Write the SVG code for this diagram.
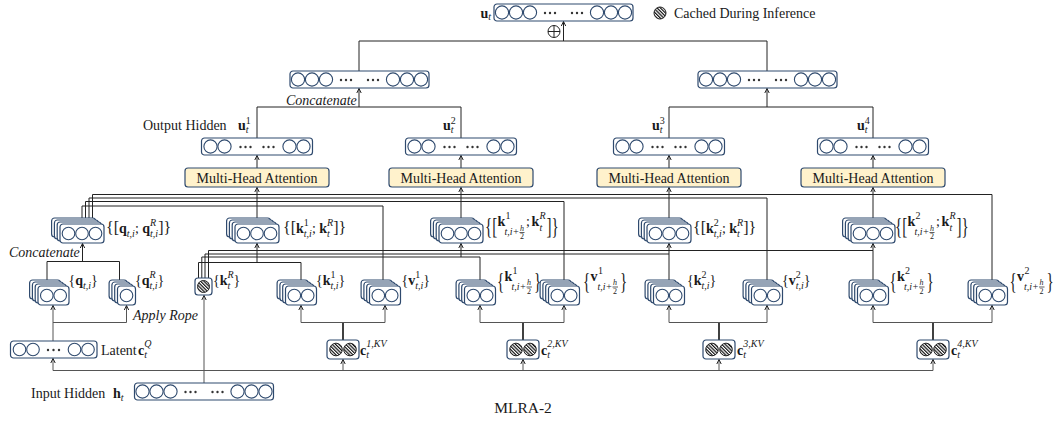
<svg xmlns="http://www.w3.org/2000/svg" width="1053" height="421" viewBox="0 0 1053 421">
<style>
  .t{font-family:"Liberation Serif","Times New Roman",serif;font-size:14px;fill:#1a1a1a}
  .b{font-weight:bold}
  .s{font-size:10px;font-style:italic}
  .n{font-size:10px;font-style:normal}
  .f{font-size:8px;font-style:italic}
  .fn{font-size:8px;font-style:normal}
  .i{font-style:italic}
  .br{font-size:16px}
  .big{font-size:15px}
  .box{fill:#fff;stroke:#2f4a6e;stroke-width:1.2}
  .cir{fill:#fff;stroke:#2f4a6e;stroke-width:1.1}
  .hc{fill:url(#hatch);stroke:#222;stroke-width:1}
  .dot{fill:#333}
  .mha{fill:#fff2cc;stroke:#2f4a6e;stroke-width:1.2}
  .ln{fill:none;stroke:#222;stroke-width:1}
  .lg{fill:none;stroke:#555;stroke-width:1}
  .thk{fill:none;stroke:#111;stroke-width:1.6}
  .arr{marker-end:url(#ah)}
  .bar{stroke:#1a1a1a;stroke-width:0.7}
</style>
<defs>
  <marker id="ah" markerWidth="6" markerHeight="6" refX="5" refY="3" orient="auto" markerUnits="userSpaceOnUse">
    <path d="M0.5,0.8 L5,3 L0.5,5.2" fill="none" stroke="#222" stroke-width="1"/>
  </marker>
  <pattern id="hatch" width="2.4" height="2.4" patternUnits="userSpaceOnUse" patternTransform="rotate(-45)">
    <rect width="2.4" height="2.4" fill="#fff"/>
    <rect width="1.2" height="2.4" fill="#111"/>
  </pattern>
  <!-- wide hidden-state vector: 3 units, ellipsis, ellipsis, 3 units -->
  <g id="v6">
    <rect x="0" y="0" width="139" height="17" rx="3" class="box"/>
    <circle cx="8" cy="8.5" r="6.6" class="cir"/><circle cx="22" cy="8.5" r="6.6" class="cir"/><circle cx="36" cy="8.5" r="6.6" class="cir"/>
    <circle cx="51" cy="9" r="1.2" class="dot"/><circle cx="56" cy="9" r="1.2" class="dot"/><circle cx="61" cy="9" r="1.2" class="dot"/>
    <circle cx="78" cy="9" r="1.2" class="dot"/><circle cx="83" cy="9" r="1.2" class="dot"/><circle cx="88" cy="9" r="1.2" class="dot"/>
    <circle cx="103" cy="8.5" r="6.6" class="cir"/><circle cx="117" cy="8.5" r="6.6" class="cir"/><circle cx="131" cy="8.5" r="6.6" class="cir"/>
  </g>
  <!-- per-group output vector -->
  <g id="v4">
    <rect x="0" y="0" width="111" height="17" rx="3" class="box"/>
    <circle cx="9" cy="8.5" r="6.6" class="cir"/><circle cx="23" cy="8.5" r="6.6" class="cir"/>
    <circle cx="39" cy="9" r="1.2" class="dot"/><circle cx="44" cy="9" r="1.2" class="dot"/><circle cx="49" cy="9" r="1.2" class="dot"/>
    <circle cx="62" cy="9" r="1.2" class="dot"/><circle cx="67" cy="9" r="1.2" class="dot"/><circle cx="72" cy="9" r="1.2" class="dot"/>
    <circle cx="88" cy="8.5" r="6.6" class="cir"/><circle cx="102" cy="8.5" r="6.6" class="cir"/>
  </g>
  <!-- query latent vector -->
  <g id="vq">
    <rect x="0" y="0" width="86.5" height="17" rx="3" class="box"/>
    <circle cx="9" cy="8.5" r="6.3" class="cir"/><circle cx="22.5" cy="8.5" r="6.3" class="cir"/>
    <circle cx="37.5" cy="9" r="1.2" class="dot"/><circle cx="43" cy="9" r="1.2" class="dot"/><circle cx="48.5" cy="9" r="1.2" class="dot"/>
    <circle cx="64" cy="8.5" r="6.3" class="cir"/><circle cx="77.5" cy="8.5" r="6.3" class="cir"/>
  </g>
  <!-- stacked per-head vectors -->
  <g id="s3">
    <rect x="-8.4" y="-6" width="44" height="19" rx="3" class="box"/>
    <rect x="-5.6" y="-4" width="44" height="19" rx="3" class="box"/>
    <rect x="-2.8" y="-2" width="44" height="19" rx="3" class="box"/>
    <rect x="0" y="0" width="44" height="19" rx="3" class="box"/>
    <circle cx="8.5" cy="9.5" r="6.3" class="cir"/><circle cx="22" cy="9.5" r="6.3" class="cir"/><circle cx="35.5" cy="9.5" r="6.3" class="cir"/>
  </g>
  <g id="s2">
    <rect x="-8.4" y="-6" width="31" height="19" rx="3" class="box"/>
    <rect x="-5.6" y="-4" width="31" height="19" rx="3" class="box"/>
    <rect x="-2.8" y="-2" width="31" height="19" rx="3" class="box"/>
    <rect x="0" y="0" width="31" height="19" rx="3" class="box"/>
    <circle cx="8.8" cy="9.5" r="6.3" class="cir"/><circle cx="22.2" cy="9.5" r="6.3" class="cir"/>
  </g>
  <g id="s1">
    <rect x="-8.4" y="-6" width="18" height="19" rx="3" class="box"/>
    <rect x="-5.6" y="-4" width="18" height="19" rx="3" class="box"/>
    <rect x="-2.8" y="-2" width="18" height="19" rx="3" class="box"/>
    <rect x="0" y="0" width="18" height="19" rx="3" class="box"/>
    <circle cx="9" cy="9.5" r="6.3" class="cir"/>
  </g>
  <!-- cached KV latent -->
  <g id="hx2">
    <rect x="0" y="0" width="32" height="19" rx="3" class="box"/>
    <circle cx="9" cy="9.5" r="6.3" class="hc"/><circle cx="23" cy="9.5" r="6.3" class="hc"/>
  </g>
</defs>

<rect width="1053" height="421" fill="#fff"/>

<g id="connectors">
  <!-- output merge -->
  <path class="ln" d="M359,71 V41 H767 V71"/>
  <path class="ln arr" d="M563.5,41 V21.5"/>
  <path class="ln" d="M257,138 V107 H461 V138"/>
  <path class="ln arr" d="M359,107 V88.5"/>
  <path class="ln" d="M669,138 V107 H873 V138"/>
  <path class="ln arr" d="M767,107 V88.5"/>
  <!-- attention to outputs -->
  <path class="ln arr" d="M257,168 V155.5"/>
  <path class="ln arr" d="M461,168 V155.5"/>
  <path class="ln arr" d="M669,168 V155.5"/>
  <path class="ln arr" d="M873,168 V155.5"/>
  <!-- keys to attention -->
  <path class="ln arr" d="M257,226 V187.5"/>
  <path class="ln arr" d="M461,226 V187.5"/>
  <path class="ln arr" d="M669,226 V187.5"/>
  <path class="ln arr" d="M873,226 V187.5"/>
  <!-- query bus and value feeds -->
  <path class="ln" d="M82,226 V206 H383 V290"/>
  <path class="ln" d="M85.5,226 V201.5 H564 V290"/>
  <path class="ln" d="M89,226 V198 H767 V290"/>
  <path class="ln" d="M92.5,226 V194.5 H992 V290"/>
  <!-- rope key bus -->
  <path class="ln" d="M198.5,286 V262.5 H301 V290"/>
  <path class="ln arr" d="M257,262.5 V243.5"/>
  <path class="ln" d="M201.8,286 V257 H480 V290"/>
  <path class="ln arr" d="M461,257 V243.5"/>
  <path class="ln" d="M205,286 V254 H669 V290"/>
  <path class="ln arr" d="M669,254 V243.5"/>
  <path class="ln" d="M208.5,286 V250.5 H873 V290"/>
  <path class="ln arr" d="M873,250.5 V243.5"/>
  <!-- query concat -->
  <path class="ln" d="M47,290 V261.5 H119.5 V290"/>
  <path class="ln arr" d="M82.5,261.5 V243.5"/>
  <!-- query latent up-projection -->
  <path class="lg arr" d="M53,341 V305.5"/>
  <path class="lg arr" d="M53,322.5 H126.5 V305.5"/>
  <!-- KV latent up-projections -->
  <path class="thk" d="M343,340 V322.5"/>
  <path class="lg arr" d="M343,322.5 H301 V305.5"/>
  <path class="lg arr" d="M343,322.5 H385 V305.5"/>
  <path class="thk" d="M523,340 V322.5"/>
  <path class="lg arr" d="M523,322.5 H480 V305.5"/>
  <path class="lg arr" d="M523,322.5 H564 V305.5"/>
  <path class="thk" d="M719,340 V322.5"/>
  <path class="lg arr" d="M719,322.5 H669 V305.5"/>
  <path class="lg arr" d="M719,322.5 H767 V305.5"/>
  <path class="thk" d="M933,340 V322.5"/>
  <path class="lg arr" d="M933,322.5 H873 V305.5"/>
  <path class="lg arr" d="M933,322.5 H992 V305.5"/>
  <!-- input bus -->
  <path class="lg" d="M53,370.5 H933"/>
  <path class="lg arr" d="M53,370.5 V358.5"/>
  <path class="lg arr" d="M343,370.5 V359.5"/>
  <path class="lg arr" d="M523,370.5 V359.5"/>
  <path class="lg arr" d="M719,370.5 V359.5"/>
  <path class="lg arr" d="M933,370.5 V359.5"/>
  <path class="lg arr" d="M204,383 V295.5"/>
</g>

<g id="sum">
  <circle cx="554" cy="31.5" r="6" fill="#fff" stroke="#222" stroke-width="1"/>
  <path d="M548,31.5 H560 M554,25.5 V37.5" stroke="#222" stroke-width="1"/>
</g>

<g id="legend">
  <circle cx="660" cy="13" r="6" class="hc"/>
  <text class="t" x="674" y="18">Cached During Inference</text>
</g>

<g id="node-ut">
  <use href="#v6" x="494" y="4"/>
  <text class="t" x="480.5" y="17.5"><tspan class="b">u</tspan><tspan class="s" dy="2.5">t</tspan></text>
</g>

<g id="node-cat-left">
  <use href="#v6" x="290" y="71"/>
  <text class="t i" x="286" y="104.5">Concatenate</text>
</g>
<g id="node-cat-right">
  <use href="#v6" x="698" y="71"/>
</g>

<g id="node-u1">
  <use href="#v4" x="201.5" y="138"/>
  <text class="t" x="143" y="129.5">Output Hidden</text>
  <text class="t" x="238" y="129.5"><tspan class="b">u</tspan><tspan class="n" dy="-6">1</tspan><tspan class="s" dx="-5" dy="9">t</tspan></text>
</g>
<g id="node-u2">
  <use href="#v4" x="405.5" y="138"/>
  <text class="t" x="443" y="129.5"><tspan class="b">u</tspan><tspan class="n" dy="-6">2</tspan><tspan class="s" dx="-5" dy="9">t</tspan></text>
</g>
<g id="node-u3">
  <use href="#v4" x="613.5" y="138"/>
  <text class="t" x="652" y="129.5"><tspan class="b">u</tspan><tspan class="n" dy="-6">3</tspan><tspan class="s" dx="-5" dy="9">t</tspan></text>
</g>
<g id="node-u4">
  <use href="#v4" x="817.5" y="138"/>
  <text class="t" x="857" y="129.5"><tspan class="b">u</tspan><tspan class="n" dy="-6">4</tspan><tspan class="s" dx="-5" dy="9">t</tspan></text>
</g>

<g id="mha1"><rect x="185" y="168" width="144" height="19" rx="3" class="mha"/><text class="t" x="257" y="182.5" text-anchor="middle">Multi-Head Attention</text></g>
<g id="mha2"><rect x="389" y="168" width="144" height="19" rx="3" class="mha"/><text class="t" x="461" y="182.5" text-anchor="middle">Multi-Head Attention</text></g>
<g id="mha3"><rect x="597" y="168" width="144" height="19" rx="3" class="mha"/><text class="t" x="669" y="182.5" text-anchor="middle">Multi-Head Attention</text></g>
<g id="mha4"><rect x="801" y="168" width="144" height="19" rx="3" class="mha"/><text class="t" x="873" y="182.5" text-anchor="middle">Multi-Head Attention</text></g>

<g id="node-qcat">
  <use href="#s3" x="60" y="224"/>
  <text class="t" x="106" y="233"><tspan class="br">{[</tspan><tspan class="b">q</tspan><tspan class="s" dy="3.5">t,i</tspan><tspan dy="-3.5">; </tspan><tspan class="b">q</tspan><tspan class="s" dy="-7">R</tspan><tspan class="s" dx="-6.1" dy="10.5">t,i</tspan><tspan class="br" dy="-3.5">]}</tspan></text>
  <text class="t i" x="9" y="257">Concatenate</text>
</g>
<g id="node-kcat1">
  <use href="#s3" x="235" y="224"/>
  <text class="t" x="283" y="233"><tspan class="br">{[</tspan><tspan class="b">k</tspan><tspan class="n" dy="-7">1</tspan><tspan class="s" dx="-5" dy="10.5">t,i</tspan><tspan dy="-3.5">; </tspan><tspan class="b">k</tspan><tspan class="s" dy="-7">R</tspan><tspan class="s" dx="-6.1" dy="10.5">t</tspan><tspan class="br" dx="3.3" dy="-3.5">]}</tspan></text>
</g>
<g id="node-kcat2">
  <use href="#s3" x="439" y="224"/>
  <g transform="translate(485,0)">
    <text class="t big" transform="translate(0,234) scale(1,1.6)">{[</text>
    <text class="t b" x="12.5" y="226">k</text>
    <text class="t n" x="20.5" y="219">1</text>
    <text class="t s" x="19.5" y="235">t,i+</text>
    <text class="t f" x="35" y="230.5">h</text>
    <line class="bar" x1="34.5" y1="232.5" x2="39.5" y2="232.5"/>
    <text class="t fn" x="35" y="239">2</text>
    <text class="t" x="41" y="226">;</text>
    <text class="t b" x="46.5" y="226">k</text>
    <text class="t s" x="54.5" y="219">R</text>
    <text class="t s" x="54.5" y="231">t</text>
    <text class="t big" transform="translate(61.5,234) scale(1,1.6)">]}</text>
  </g>
</g>
<g id="node-kcat3">
  <use href="#s3" x="647" y="224"/>
  <text class="t" x="693" y="233"><tspan class="br">{[</tspan><tspan class="b">k</tspan><tspan class="n" dy="-7">2</tspan><tspan class="s" dx="-5" dy="10.5">t,i</tspan><tspan dy="-3.5">; </tspan><tspan class="b">k</tspan><tspan class="s" dy="-7">R</tspan><tspan class="s" dx="-6.1" dy="10.5">t</tspan><tspan class="br" dx="3.3" dy="-3.5">]}</tspan></text>
</g>
<g id="node-kcat4">
  <use href="#s3" x="851" y="224"/>
  <g transform="translate(895,0)">
    <text class="t big" transform="translate(0,234) scale(1,1.6)">{[</text>
    <text class="t b" x="12.5" y="226">k</text>
    <text class="t n" x="20.5" y="219">2</text>
    <text class="t s" x="19.5" y="235">t,i+</text>
    <text class="t f" x="35" y="230.5">h</text>
    <line class="bar" x1="34.5" y1="232.5" x2="39.5" y2="232.5"/>
    <text class="t fn" x="35" y="239">2</text>
    <text class="t" x="41" y="226">;</text>
    <text class="t b" x="46.5" y="226">k</text>
    <text class="t s" x="54.5" y="219">R</text>
    <text class="t s" x="54.5" y="231">t</text>
    <text class="t big" transform="translate(61.5,234) scale(1,1.6)">]}</text>
  </g>
</g>

<g id="node-q">
  <use href="#s2" x="38" y="286"/>
  <text class="t" x="68.5" y="285"><tspan>{</tspan><tspan class="b">q</tspan><tspan class="s" dy="3.5">t,i</tspan><tspan dy="-3.5">}</tspan></text>
</g>
<g id="node-qr">
  <use href="#s1" x="117.5" y="286"/>
  <text class="t" x="135" y="285"><tspan>{</tspan><tspan class="b">q</tspan><tspan class="s" dy="-7">R</tspan><tspan class="s" dx="-6.1" dy="10.5">t,i</tspan><tspan dy="-3.5">}</tspan></text>
  <text class="t i" x="133" y="320">Apply Rope</text>
</g>
<g id="node-kr">
  <rect x="195" y="278" width="17" height="17" rx="3" class="box"/>
  <circle cx="203.5" cy="286.5" r="6" class="hc"/>
  <text class="t" x="213" y="285"><tspan>{</tspan><tspan class="b">k</tspan><tspan class="s" dy="-7">R</tspan><tspan class="s" dx="-6.1" dy="10.5">t</tspan><tspan dx="3.3" dy="-3.5">}</tspan></text>
</g>
<g id="node-k1">
  <use href="#s2" x="285.5" y="286"/>
  <text class="t" x="316" y="285"><tspan>{</tspan><tspan class="b">k</tspan><tspan class="n" dy="-7">1</tspan><tspan class="s" dx="-5" dy="10.5">t,i</tspan><tspan dy="-3.5">}</tspan></text>
</g>
<g id="node-v1">
  <use href="#s2" x="369.5" y="286"/>
  <text class="t" x="401.5" y="285"><tspan>{</tspan><tspan class="b">v</tspan><tspan class="n" dy="-7">1</tspan><tspan class="s" dx="-5" dy="10.5">t,i</tspan><tspan dy="-3.5">}</tspan></text>
</g>
<g id="node-k1h">
  <use href="#s2" x="464.5" y="286"/>
  <g transform="translate(497,0)">
    <text class="t big" transform="translate(0,289) scale(1,1.5)">{</text>
    <text class="t b" x="7.5" y="280.5">k</text>
    <text class="t n" x="15.5" y="274">1</text>
    <text class="t s" x="14.5" y="290">t,i+</text>
    <text class="t f" x="30" y="285">h</text>
    <line class="bar" x1="29.5" y1="287" x2="35" y2="287"/>
    <text class="t fn" x="30" y="293.5">2</text>
    <text class="t big" transform="translate(37,289) scale(1,1.5)">}</text>
  </g>
</g>
<g id="node-v1h">
  <use href="#s2" x="548.5" y="286"/>
  <g transform="translate(583,0)">
    <text class="t big" transform="translate(0,289) scale(1,1.5)">{</text>
    <text class="t b" x="7.5" y="280.5">v</text>
    <text class="t n" x="15" y="274">1</text>
    <text class="t s" x="14.5" y="290">t,i+</text>
    <text class="t f" x="30" y="285">h</text>
    <line class="bar" x1="29.5" y1="287" x2="35" y2="287"/>
    <text class="t fn" x="30" y="293.5">2</text>
    <text class="t big" transform="translate(37,289) scale(1,1.5)">}</text>
  </g>
</g>
<g id="node-k2">
  <use href="#s2" x="653.5" y="286"/>
  <text class="t" x="687" y="285"><tspan>{</tspan><tspan class="b">k</tspan><tspan class="n" dy="-7">2</tspan><tspan class="s" dx="-5" dy="10.5">t,i</tspan><tspan dy="-3.5">}</tspan></text>
</g>
<g id="node-v2">
  <use href="#s2" x="751.5" y="286"/>
  <text class="t" x="782" y="285"><tspan>{</tspan><tspan class="b">v</tspan><tspan class="n" dy="-7">2</tspan><tspan class="s" dx="-5" dy="10.5">t,i</tspan><tspan dy="-3.5">}</tspan></text>
</g>
<g id="node-k2h">
  <use href="#s2" x="857.5" y="286"/>
  <g transform="translate(889.5,0)">
    <text class="t big" transform="translate(0,289) scale(1,1.5)">{</text>
    <text class="t b" x="7.5" y="280.5">k</text>
    <text class="t n" x="15.5" y="274">2</text>
    <text class="t s" x="14.5" y="290">t,i+</text>
    <text class="t f" x="30" y="285">h</text>
    <line class="bar" x1="29.5" y1="287" x2="35" y2="287"/>
    <text class="t fn" x="30" y="293.5">2</text>
    <text class="t big" transform="translate(37,289) scale(1,1.5)">}</text>
  </g>
</g>
<g id="node-v2h">
  <use href="#s2" x="976.5" y="286"/>
  <g transform="translate(1009.5,0)">
    <text class="t big" transform="translate(0,289) scale(1,1.5)">{</text>
    <text class="t b" x="7.5" y="280.5">v</text>
    <text class="t n" x="15" y="274">2</text>
    <text class="t s" x="14.5" y="290">t,i+</text>
    <text class="t f" x="30" y="285">h</text>
    <line class="bar" x1="29.5" y1="287" x2="35" y2="287"/>
    <text class="t fn" x="30" y="293.5">2</text>
    <text class="t big" transform="translate(37,289) scale(1,1.5)">}</text>
  </g>
</g>

<g id="node-cq">
  <use href="#vq" x="10.5" y="341"/>
  <text class="t" x="101" y="355">Latent</text>
  <text class="t" x="138" y="355"><tspan class="b">c</tspan><tspan class="s" dy="-8">Q</tspan><tspan class="s" dx="-7.2" dy="11">t</tspan></text>
</g>
<g id="node-c1">
  <use href="#hx2" x="327" y="340"/>
  <text class="t" x="360" y="354.5"><tspan class="b">c</tspan><tspan class="s" dy="-7.5">1,KV</tspan><tspan class="s" dx="-20.3" dy="11">t</tspan></text>
</g>
<g id="node-c2">
  <use href="#hx2" x="507" y="340"/>
  <text class="t" x="541" y="354.5"><tspan class="b">c</tspan><tspan class="s" dy="-7.5">2,KV</tspan><tspan class="s" dx="-20.3" dy="11">t</tspan></text>
</g>
<g id="node-c3">
  <use href="#hx2" x="703" y="340"/>
  <text class="t" x="737" y="354.5"><tspan class="b">c</tspan><tspan class="s" dy="-7.5">3,KV</tspan><tspan class="s" dx="-20.3" dy="11">t</tspan></text>
</g>
<g id="node-c4">
  <use href="#hx2" x="917" y="340"/>
  <text class="t" x="951" y="354.5"><tspan class="b">c</tspan><tspan class="s" dy="-7.5">4,KV</tspan><tspan class="s" dx="-20.3" dy="11">t</tspan></text>
</g>

<g id="node-h">
  <use href="#v6" x="134.5" y="383"/>
  <text class="t" x="31" y="398">Input Hidden</text>
  <text class="t" x="113" y="398"><tspan class="b">h</tspan><tspan class="s" dy="2.5">t</tspan></text>
</g>

<text class="t" x="523" y="413" text-anchor="middle" style="font-size:15.5px">MLRA-2</text>
</svg>
